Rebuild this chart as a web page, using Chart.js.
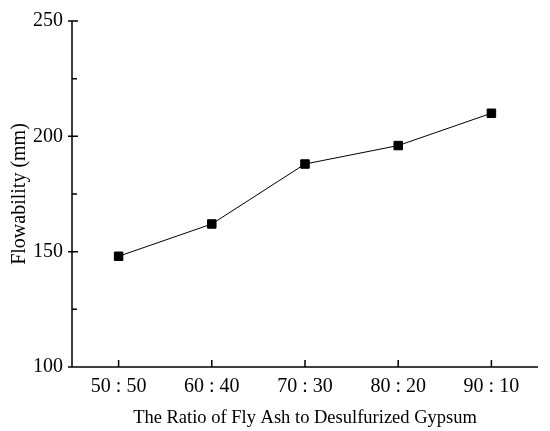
<!DOCTYPE html>
<html>
<head>
<meta charset="utf-8">
<script src="https://cdn.jsdelivr.net/npm/chart.js@4"></script>
<style>
  html, body { margin: 0; padding: 0; background: #fff; }
  #wrap { width: 550px; height: 431px; }
</style>
</head>
<body>
<div id="wrap"><canvas id="flow" width="550" height="431"></canvas></div>
<script>
const ratios = ['50 : 50', '60 : 40', '70 : 30', '80 : 20', '90 : 10'];
const flowability = [148, 162, 188, 196, 210];
const yMajor = [100, 150, 200, 250];
const yMinor = [125, 175, 225];

const serif = {family: 'Liberation Serif', size: 20};

// axis lines + origin-style ticks: major cross the axis, minor and x ticks point inward
const axisTicks = {
    id: 'axisTicks',
    afterDraw(chart) {
        const ctx = chart.ctx, a = chart.chartArea;
        const x = chart.scales.x, y = chart.scales.y;
        ctx.save();
        ctx.strokeStyle = '#000';
        ctx.lineWidth = 1.5;
        ctx.beginPath();
        ctx.moveTo(a.left, a.top);
        ctx.lineTo(a.left, a.bottom);
        ctx.lineTo(a.right, a.bottom);
        yMajor.forEach(v => {
            const py = y.getPixelForValue(v);
            ctx.moveTo(a.left - 4, py);
            ctx.lineTo(a.left + 6, py);
        });
        yMinor.forEach(v => {
            const py = y.getPixelForValue(v);
            ctx.moveTo(a.left, py);
            ctx.lineTo(a.left + 5, py);
        });
        ratios.forEach((r, i) => {
            const px = x.getPixelForValue(i);
            ctx.moveTo(px, a.bottom);
            ctx.lineTo(px, a.bottom - 7);
        });
        ctx.stroke();
        ctx.restore();
    }
};

new Chart(document.getElementById('flow'), {
    type: 'line',
    plugins: [axisTicks],
    data: {
        labels: ratios,
        datasets: [{
            data: flowability,
            borderColor: '#000',
            borderWidth: 1,
            backgroundColor: '#000',
            pointStyle: 'rect',
            pointRadius: 6,
            pointHoverRadius: 6,
            tension: 0
        }]
    },
    options: {
        responsive: false,
        animation: false,
        layout: {padding: {top: 19, right: 12, left: 0, bottom: 0}},
        plugins: {legend: {display: false}, tooltip: {enabled: false}},
        scales: {
            x: {
                offset: true,
                grid: {display: false, drawTicks: false},
                border: {display: false},
                ticks: {color: '#000', padding: 8, maxRotation: 0, font: serif},
                title: {display: true, text: 'The Ratio of Fly Ash to Desulfurized Gypsum',
                        color: '#000', font: {family: 'Liberation Serif', size: 18.5},
                        padding: {top: 4, bottom: 2}},
                afterFit(scale) { scale.height = 64; }
            },
            y: {
                min: 100,
                max: 250,
                grid: {display: false, drawTicks: false},
                border: {display: false},
                ticks: {stepSize: 50, color: '#000', padding: 9, font: serif},
                title: {display: true, text: 'Flowability (mm)', color: '#000',
                        font: serif, padding: {top: 8, bottom: 0}},
                afterFit(scale) { scale.width = 72; }
            }
        }
    }
});
</script>
</body>
</html>
